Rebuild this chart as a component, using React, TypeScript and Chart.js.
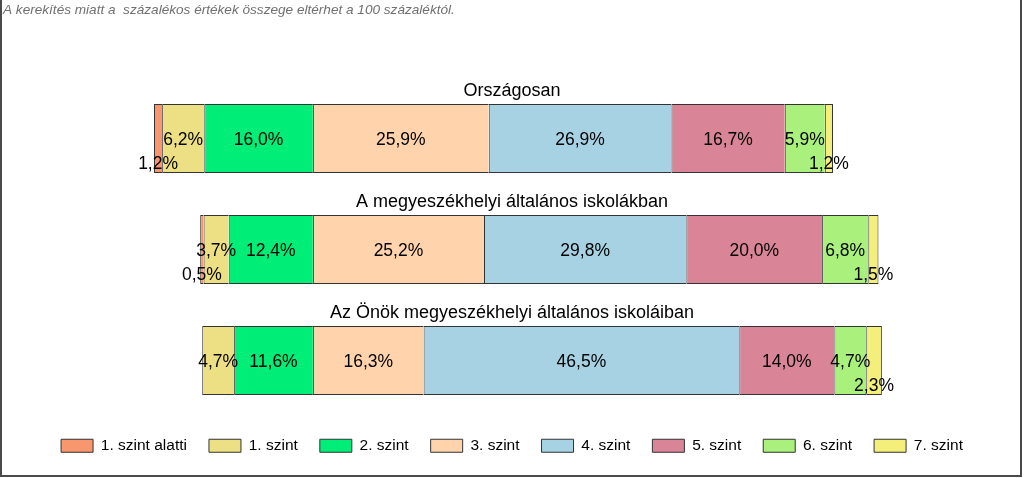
import React, { useEffect, useRef } from 'react';
import { Chart, registerables } from 'chart.js';

Chart.register(...registerables);

const categories = [
  'Országosan',
  'A megyeszékhelyi általános iskolákban',
  'Az Önök megyeszékhelyi általános iskoláiban',
];
const levels = ['1. szint alatti', '1. szint', '2. szint', '3. szint', '4. szint', '5. szint', '6. szint', '7. szint'];
const belowLevel1 = [1.2, 0.5, 0];
const level1 = [6.2, 3.7, 4.7];
const level2 = [16.0, 12.4, 11.6];
const level3 = [25.9, 25.2, 16.3];
const level4 = [26.9, 29.8, 46.5];
const level5 = [16.7, 20.0, 14.0];
const level6 = [5.9, 6.8, 4.7];
const level7 = [1.2, 1.5, 2.3];
const levelColors = ['#F8966E', '#EDDF84', '#00EE77', '#FFD3AC', '#A6D2E3', '#DA8497', '#A9F07D', '#F4EE7A'];
const note = 'A kerekítés miatt a  százalékos értékek összege eltérhet a 100 százaléktól.';

const FONT = '"Liberation Sans", Arial, Helvetica, sans-serif';
const BORDER = '#333333';

const fmt = (v: number) => v.toFixed(1).replace('.', ',') + '%';

const segLabels = {
  id: 'segLabels',
  afterDatasetsDraw(chart: any) {
    const ctx = chart.ctx;
    ctx.save();
    ctx.font = `17.5px ${FONT}`;
    ctx.fillStyle = '#000';
    ctx.textAlign = 'center';
    ctx.textBaseline = 'alphabetic';
    chart.data.datasets.forEach((ds: any, di: number) => {
      if (di === 0) return;
      const meta = chart.getDatasetMeta(di);
      meta.data.forEach((el: any, i: number) => {
        const v = ds.data[i];
        if (!v) return;
        const { x, base, y, height } = el.getProps(['x', 'base', 'y', 'height'], true);
        const cx = (x + base) / 2;
        const cy = v < 3 ? y + height * 0.35 : y;
        ctx.fillText(fmt(v), cx, cy + 6.5);
      });
    });
    ctx.restore();
  },
};

const decorations = {
  id: 'decorations',
  afterDraw(chart: any) {
    const ctx = chart.ctx;
    ctx.save();
    ctx.font = `18px ${FONT}`;
    ctx.fillStyle = '#000';
    ctx.textAlign = 'center';
    ctx.textBaseline = 'alphabetic';
    const meta = chart.getDatasetMeta(1);
    meta.data.forEach((el: any, i: number) => {
      const { y, height } = el.getProps(['y', 'height'], true);
      ctx.fillText(categories[i], chart.width / 2, y - height / 2 - 8);
    });
    ctx.font = `italic 13.6px ${FONT}`;
    ctx.fillStyle = '#707070';
    ctx.textAlign = 'left';
    ctx.fillText(note, 3, 14);
    ctx.strokeStyle = '#4a4a4a';
    ctx.lineWidth = 2;
    ctx.beginPath();
    ctx.moveTo(1, 0);
    ctx.lineTo(1, 476);
    ctx.lineTo(1021, 476);
    ctx.lineTo(1021, 0);
    ctx.stroke();
    ctx.restore();
  },
};

export default function App() {
  const ref = useRef<HTMLCanvasElement | null>(null);

  useEffect(() => {
    if (!ref.current) return;
    const series = [belowLevel1, level1, level2, level3, level4, level5, level6, level7];
    const below = categories.map((_, i) => belowLevel1[i] + level1[i] + level2[i]);
    const maxBelow = Math.max(...below);
    const offsets = below.map((b) => maxBelow - b);

    const datasets: any[] = [
      {
        label: 'offset',
        data: offsets,
        backgroundColor: 'rgba(0,0,0,0)',
        borderWidth: 0,
      },
      ...series.map((data, k) => ({
        label: levels[k],
        data,
        backgroundColor: levelColors[k],
        borderColor: BORDER,
        borderWidth: { left: 1, top: 1, bottom: 1, right: k === series.length - 1 ? 1 : 0 },
        borderSkipped: false,
      })),
    ];

    const chart = new Chart(ref.current, {
      type: 'bar',
      data: { labels: categories, datasets },
      options: {
        indexAxis: 'y',
        responsive: false,
        animation: false,
        devicePixelRatio: 1,
        layout: { padding: { top: 83, bottom: 14.5, left: 10, right: 10 } },
        datasets: { bar: { barPercentage: 0.6216, categoryPercentage: 1 } },
        scales: {
          x: { stacked: true, display: false, min: -21.21, max: 126.66 },
          y: { stacked: true, display: false },
        },
        plugins: {
          title: { display: false },
          tooltip: { enabled: false },
          legend: {
            display: true,
            position: 'bottom',
            labels: {
              boxWidth: 32,
              boxHeight: 13,
              padding: 22,
              color: '#000',
              font: { size: 15.5, family: FONT },
              generateLabels: (c: any) =>
                (Chart.defaults.plugins.legend.labels.generateLabels as any)(c)
                  .filter((l: any) => l.datasetIndex > 0)
                  .map((l: any) => ({ ...l, lineWidth: 1, strokeStyle: BORDER })),
            },
          },
        },
      } as any,
      plugins: [segLabels, decorations],
    });
    return () => chart.destroy();
  }, []);

  return (
    <div style={{ position: 'absolute', left: 0, top: 0, width: 1024, height: 478, background: '#fff' }}>
      <canvas ref={ref} width={1024} height={478} style={{ display: 'block' }} />
    </div>
  );
}
